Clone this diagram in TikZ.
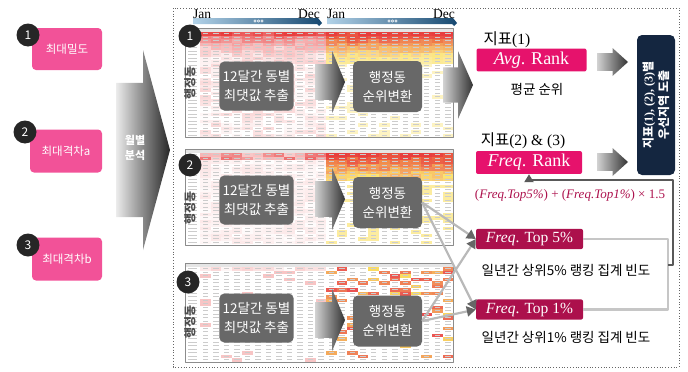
\documentclass[tikz,border=0pt]{standalone}
\usepackage{fontspec}
\setmainfont{Liberation Serif}
\newfontfamily\kr{Noto Sans CJK KR}
\usetikzlibrary{arrows.meta}

\definecolor{tagpink}{RGB}{242,82,152}
\definecolor{rankpink}{RGB}{230,18,108}
\definecolor{topred}{RGB}{172,16,76}
\definecolor{navy}{RGB}{20,38,64}
\definecolor{boxgray}{RGB}{104,104,104}
\definecolor{hmred}{RGB}{232,62,62}
\definecolor{hmyellow}{RGB}{250,220,80}
\definecolor{ribbonlight}{RGB}{178,210,232}
\definecolor{ribbondark}{RGB}{22,72,112}

% heat map of one panel: #1 top, #2 last row, #3 left tint, #4 right strength, #5 right redness
\newcommand{\heatgrid}[5]{%
  \fill[black!10] (186,#1+0.5) rectangle (453,#1+4);
  \foreach \row in {0,...,#2}{%
    \fill[black!20] (188,#1+5.2+3.5*\row) rectangle ++(9,1.1);
    \foreach \col in {0,...,11}{%
      \pgfmathsetmacro{\lp}{max(0,min(100,(#3)))}%
      \pgfmathsetmacro{\rs}{max(0,min(100,(#4)))}%
      \pgfmathsetmacro{\rh}{max(0,min(100,(#5)))}%
      \fill[hmred!\lp!white] (200+10.5*\col,#1+4+3.5*\row) rectangle ++(10.5,3.5);
      \fill[hmred!\rh!hmyellow!\rs!white] (326+10.6*\col,#1+4+3.5*\row) rectangle ++(10.6,3.5);
      \fill[black!20] (202.5+10.5*\col,#1+5.2+3.5*\row) rectangle ++(5.5,1.1);
      \fill[black!20] (328.5+10.6*\col,#1+5.2+3.5*\row) rectangle ++(5.5,1.1);
    }%
  }%
}

\begin{document}
\begin{tikzpicture}[
  x=1pt, y=-1pt,
  line join=round,
  tag/.style={fill=tagpink, rounded corners=4pt, text=white, minimum width=70, minimum height=42,
    font=\kr\fontsize{11.5}{13}\selectfont},
  numdot/.style={circle, fill=black!85, text=white, minimum size=23, inner sep=0pt,
    font=\kr\fontsize{12}{13}\selectfont},
  stepbox/.style={fill=boxgray, rounded corners=5pt, text=white, minimum width=69, minimum height=49,
    align=center, font=\kr\fontsize{13.5}{19}\selectfont},
  rankbox/.style={fill=rankpink, rounded corners=2pt, text=white, minimum width=110, minimum height=22,
    font=\fontsize{18}{18}\selectfont},
  topbox/.style={fill=topred, rounded corners=2pt, text=white, minimum width=107, minimum height=20,
    font=\fontsize{15.5}{16}\selectfont},
  idxlbl/.style={font=\fontsize{15.5}{17}\selectfont},
  caption/.style={font=\kr\fontsize{13.5}{15}\selectfont},
  monthlbl/.style={font=\fontsize{13.5}{14}\selectfont, inner sep=0pt},
  dongtag/.style={rotate=90, text=black!70, inner sep=0pt, font=\kr\bfseries\fontsize{12}{12}\selectfont},
  crossline/.style={draw=gray!55, line width=2.2pt, -{Triangle[length=9pt, width=10pt, color=black!60]}},
  feedline/.style={draw=gray!45, line width=2.5pt},
  backline/.style={draw=black!65, line width=2pt, -{Triangle[length=8pt, width=9pt]}},
  arrowshade/.style={left color=gray!35, right color=black!80},
  pics/fatarrow/.style args={#1/#2}{code={
    \shade[arrowshade] (0,-#1) -- (#2,-#1) -- (#2,-0.5) -- (1,0) -- (#2,0.5) -- (#2,#1) -- (0,#1) -- cycle;
  }}
]
  \useasboundingbox (0,0) rectangle (688,372);

  % frame of the monthly analysis
  \draw[dotted, black!60, line width=0.8pt] (173,8) rectangle (679,367);

  % month ribbons
  \foreach \x/\w in {193/129, 327/130}{
    \shade[left color=ribbonlight, right color=ribbondark]
      (\x,18) -- (\x+\w-4,18) -- (\x+\w,23) -- (\x+\w-3,26) -- (\x+\w-5,24) -- (\x,24) -- cycle;
    \node[monthlbl] (jan\x) at (\x+9,14) {Jan};
    \node[monthlbl] (dec\x) at (\x+\w-13,14) {Dec};
    \foreach \k in {0,1,2}
      \draw[white, line width=0.5pt] (\x+62+3.5*\k,21) circle (1.3);
  }

  % panels
  \heatgrid{28}{29}{85*exp(-\row/3)+25*rnd-5}{\row<9 ? 100-6*\row+10*rnd : (rnd>0.8 ? 35 : 0)}{100-15*\row+30*rnd-15}
  \heatgrid{149}{25}{\row<2 ? 25+55*rnd : 12*rnd}{\row<8 ? 105-4*\row : (rnd>0.72 ? 55 : 0)}{100-14*\row+40*rnd-20}
  \heatgrid{263}{26}{\row<1 ? 40*rnd : (rnd>0.95 ? 30 : 0)}{rnd>0.58+0.012*\row ? 90 : 0}{100*rnd}
  \draw[black!45, line width=0.8pt] (185,28) rectangle (453,137);
  \draw[black!45, line width=0.8pt] (185,149) rectangle (453,245);
  \draw[black!45, line width=0.8pt] (185,263) rectangle (453,362);

  \node[numdot] (p1) at (190,36) {1};
  \node[numdot] (p2) at (190,165) {2};
  \node[numdot] (p3) at (188,282) {3};
  \node[dongtag] (dong1) at (190,83) {행정동};
  \node[dongtag] (dong2) at (190,208) {행정동};
  \node[dongtag] (dong3) at (190,322) {행정동};

  \node[stepbox] (max1) at (256.5,86) {12달간 동별\\최댓값 추출};
  \node[stepbox] (max2) at (256.5,200) {12달간 동별\\최댓값 추출};
  \node[stepbox] (max3) at (256.5,318) {12달간 동별\\최댓값 추출};
  \pic at (315,82) [xscale=30, yscale=62] {fatarrow=0.29/0.57};
  \pic at (315,199) [xscale=30, yscale=62] {fatarrow=0.29/0.57};
  \pic at (315,320) [xscale=30, yscale=62] {fatarrow=0.29/0.57};
  \node[stepbox, minimum height=51] (rank1) at (387.5,86.5) {행정동\\순위변환};
  \node[stepbox, minimum height=51] (rank2) at (387.5,202.5) {행정동\\순위변환};
  \node[stepbox, minimum height=51] (rank3) at (387.5,321) {행정동\\순위변환};
  \pic at (443,85) [xscale=30, yscale=68] {fatarrow=0.26/0.5};

  % indices
  \node[idxlbl] (idx1) at (507,40) {{\kr 지표}(1)};
  \node[rankbox] (arank) at (531.5,60) {\textit{Avg}. Rank};
  \node[caption] (avgcap) at (537,89) {평균 순위};
  \pic at (597,62) [xscale=31, yscale=28] {fatarrow=0.32/0.5};

  \node[idxlbl] (idx23) at (523,141) {{\kr 지표}(2) \& (3)};
  \node[rankbox, minimum width=106, minimum height=21] (frank) at (529,162.5) {\textit{Freq}. Rank};
  \pic at (597,162) [xscale=31, yscale=28] {fatarrow=0.32/0.5};
  \node[text=topred, font=\fontsize{13}{14}\selectfont] (formula) at (570,195)
    {(\textit{Freq.Top5\%}) + (\textit{Freq.Top1\%}) × 1.5};

  \node[topbox] (top5) at (529.5,239) {\textit{Freq}. Top 5\%};
  \node[caption] (cap5) at (566,270) {일년간 상위5\% 랭킹 집계 빈도};
  \node[topbox] (top1) at (529.5,309.5) {\textit{Freq}. Top 1\%};
  \node[caption] (cap1) at (566,337) {일년간 상위1\% 랭킹 집계 빈도};

  \node[rotate=90, fill=navy, rounded corners=5pt, minimum width=140, minimum height=38, align=center,
    text=white, inner sep=2pt, font=\bfseries\fontsize{12}{15.5}\selectfont] (final) at (656,105)
    {{\kr 지표}(1), (2), (3){\kr 별}\\{\kr 우선지역 도출}};

  % ranks into top 5% / top 1%
  \draw[crossline] (rank2.east) -- (top5.west);
  \draw[crossline] (rank2.east) -- (top1.west);
  \draw[crossline] (rank3.east) -- (top5.west);
  \draw[crossline] (rank3.east) -- (top1.west);

  \coordinate (joint) at (668,265);
  \coordinate (turn) at (673,180);
  \draw[feedline] (top5.east) -| (joint) |- (top1.east);
  \draw[backline] (joint) -| (turn) -| (frank.south);

  % input variables
  \node[tag] (dense) at (67,49) {최대밀도};
  \node[tag, minimum width=72, minimum height=43] (gapa) at (66,151) {최대격차a};
  \node[tag, minimum height=43] (gapb) at (67,259) {최대격차b};
  \node[numdot] (v1) at (28,35) {1};
  \node[numdot] (v2) at (25,132) {2};
  \node[numdot] (v3) at (28,245) {3};

  \pic at (116,150) [xscale=54, yscale=200, arrowshade/.style={left color=gray!15, right color=black!85}]
    {fatarrow=0.335/0.5};
  \node[text=white, align=center, font=\kr\bfseries\fontsize{11}{15}\selectfont] (monthly) at (135,148)
    {월별\\분석};
\end{tikzpicture}
\end{document}
